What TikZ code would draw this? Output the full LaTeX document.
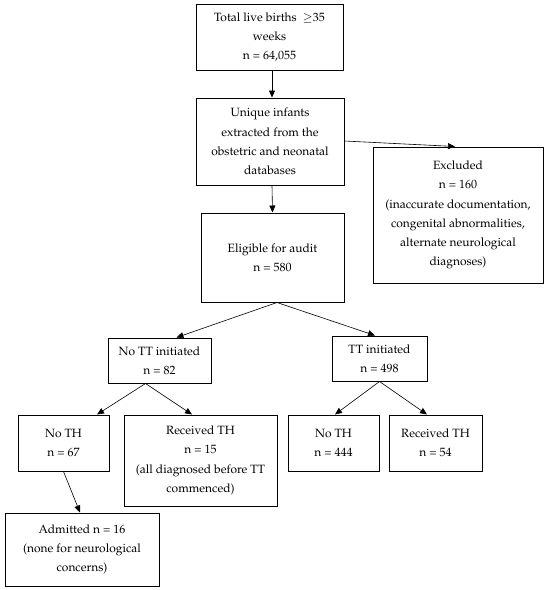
\documentclass[tikz,border=0pt]{standalone}
\usepackage[T1]{fontenc}
\usepackage{mathpazo}
\usepackage{tikz}
\usetikzlibrary{arrows.meta,positioning}

\begin{document}
\begin{tikzpicture}[x=1pt, y=-1pt,
    box/.style={draw, line width=1pt, align=center, inner sep=0pt,
        font=\fontsize{12}{19.2}\selectfont},
    flow/.style={-{Triangle[length=7pt,width=6pt]}, line width=0.6pt}]
    \useasboundingbox (0,0) rectangle (550,590);

    % Top of the chart
    \node [box, minimum width=147pt, minimum height=66pt] (births) at (269.5, 37)
        {Total live births\ \ $\geq$35\\weeks\\n = 64,055};
    \node [box, minimum width=148pt, minimum height=87pt] (unique) at (270, 141.5)
        {Unique infants\\extracted from the\\obstetric and neonatal\\databases};
    \node [box, minimum width=170pt, minimum height=136pt] (excluded) at (458, 215)
        {Excluded\\n = 160\\(inaccurate documentation,\\congenital abnormalities,\\alternate neurological\\diagnoses)};
    \node [box, minimum width=143pt, minimum height=89pt] (eligible) at (272.5, 257.5)
        {Eligible for audit\\n = 580};

    % Split by TT
    \node [box, minimum width=103pt, minimum height=45pt] (nott) at (159.5, 360.5)
        {No TT initiated\\n = 82};
    \node [box, minimum width=95pt, minimum height=45pt] (tt) at (379.5, 358.5)
        {TT initiated\\n = 498};

    % Split by TH
    \node [box, minimum width=91pt, minimum height=56pt] (nothA) at (63.5, 443)
        {No TH\\n = 67};
    \node [box, minimum width=153pt, minimum height=91pt] (recthA) at (200.5, 460.5)
        {Received TH\\n = 15\\(all diagnosed before TT\\commenced)};
    \node [box, minimum width=91pt, minimum height=56pt] (nothB) at (333.5, 443)
        {No TH\\n = 444};
    \node [box, minimum width=93pt, minimum height=56pt] (recthB) at (435.5, 443)
        {Received TH\\n = 54};
    \node [box, minimum width=154pt, minimum height=73pt] (admitted) at (82, 549.5)
        {Admitted n = 16\\(none for neurological\\concerns)};

    % Connectors
    \draw [flow] ([xshift=2.5pt]births.south) -- ([xshift=2pt]unique.north);
    \draw [flow] ([yshift=0.5pt]unique.east) -- ([xshift=-3pt]excluded.north);
    \draw [flow] ([xshift=2pt]unique.south) -- (eligible.north);
    \draw [flow] ([xshift=4.5pt]eligible.south) -- ([xshift=17pt]nott.north);
    \draw [flow] ([xshift=4.5pt]eligible.south) -- ([xshift=-4.5pt]tt.north);
    \draw [flow] ([xshift=-14pt]nott.south) -- ([xshift=33.5pt]nothA.north);
    \draw [flow] ([xshift=-14pt]nott.south) -- ([xshift=-8.5pt]recthA.north);
    \draw [flow] (tt.south) -- ([xshift=1.5pt]nothB.north);
    \draw [flow] (tt.south) -- ([xshift=-8.5pt]recthB.north);
    \draw [flow] (nothA.south) -- ([xshift=-2pt]admitted.north);
\end{tikzpicture}
\end{document}
